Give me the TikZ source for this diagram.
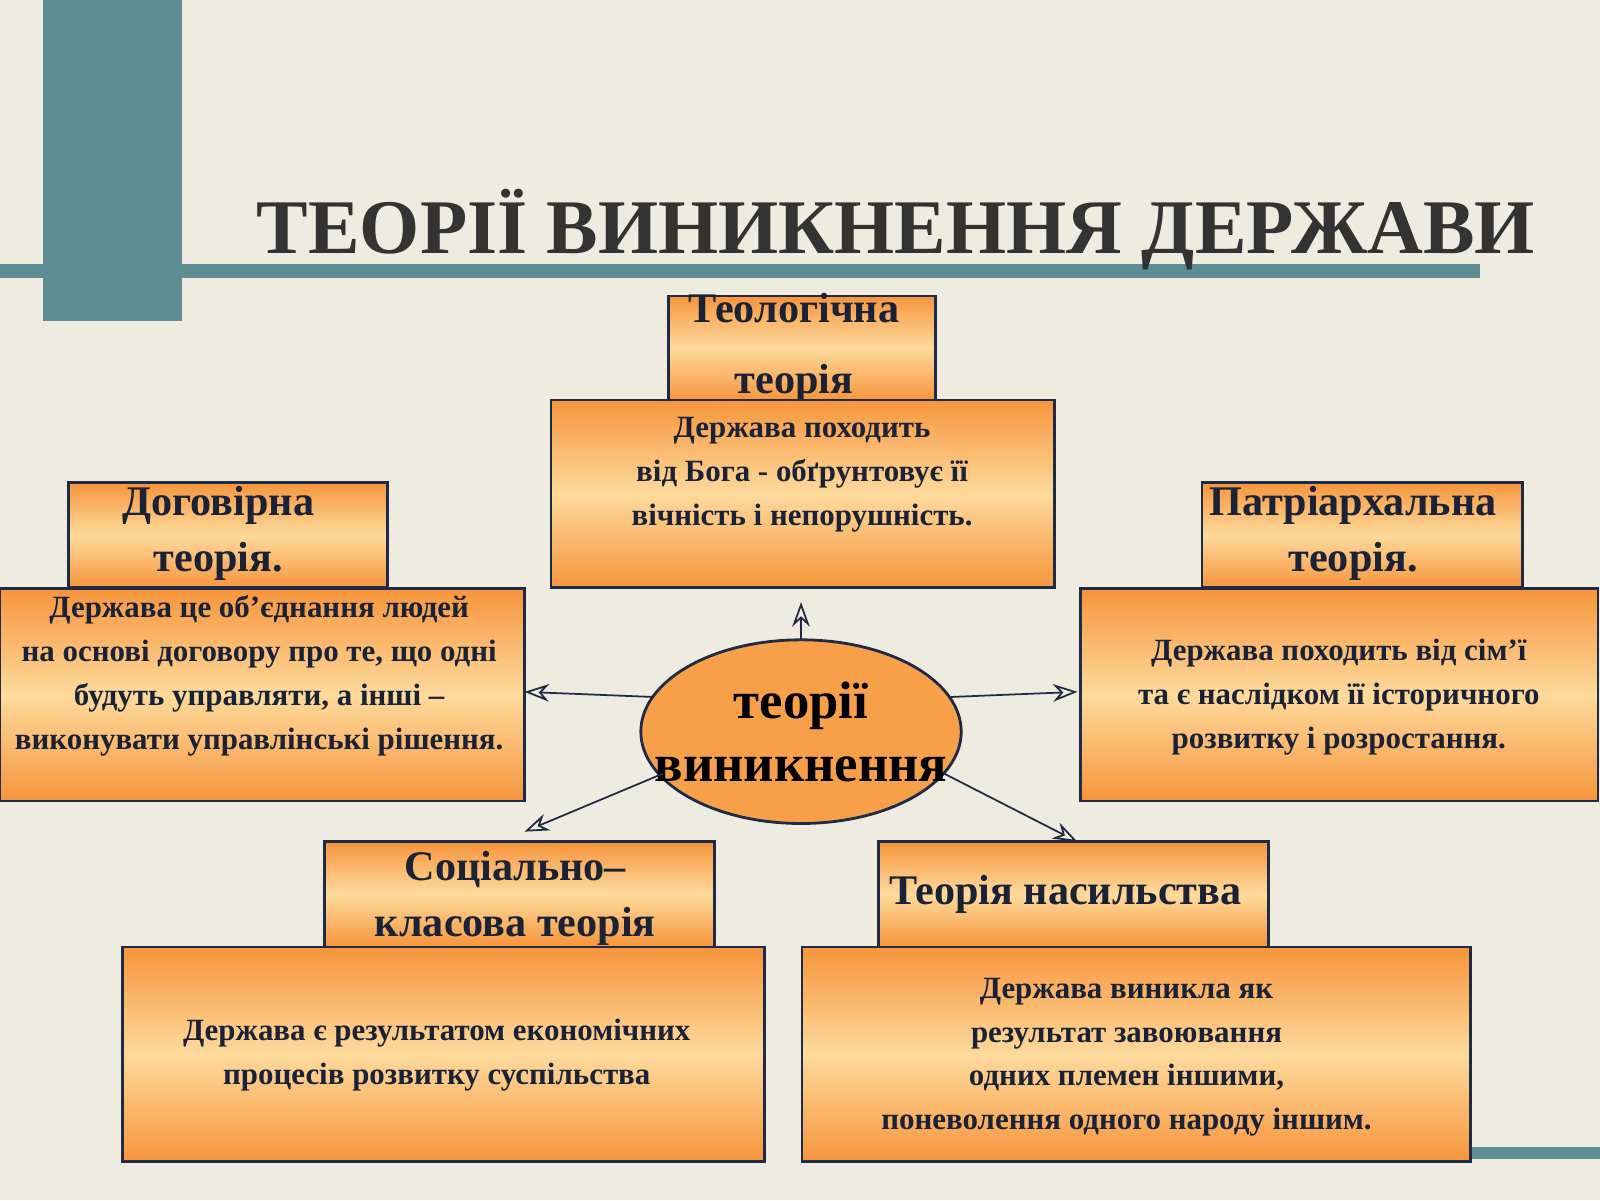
\documentclass[tikz,border=0pt]{standalone}
\usepackage{fontspec}
\setmainfont{Liberation Serif}
\usetikzlibrary{shapes.geometric,arrows.meta}
\definecolor{bgbeige}{HTML}{EEEBE0}
\definecolor{teal}{HTML}{5E8D93}
\definecolor{boxedge}{HTML}{F7953C}
\definecolor{boxmid}{HTML}{FDDA9C}
\definecolor{ink}{HTML}{1F2A44}
\tikzset{
  orangebox/.style={draw=ink, line width=0.8pt, top color=boxedge, bottom color=boxedge, middle color=boxmid, shading=axis},
  headtext/.style={font=\fontsize{12}{16}\selectfont\bfseries, align=center, text=ink!80!black},
  bodytext/.style={font=\fontsize{8.8}{12.5}\selectfont\bfseries, align=center, text=ink!80!black},
  link/.style={draw=ink, line width=0.5pt, -{Stealth[length=7pt,width=5pt,open]}}
}
\begin{document}
\begin{tikzpicture}[x=0.010204cm, y=-0.010204cm]
\fill[bgbeige] (0,0) rectangle (1568,1176);
\useasboundingbox (0,0) rectangle (1568,1176);
% decoration
\fill[teal] (0,259) rectangle (1450,272);
\fill[teal] (42,0) rectangle (178,315);
\fill[teal] (1440,1124) rectangle (1568,1136);
\node[font=\fontsize{22}{26}\selectfont\bfseries, text=black!80] (title) at (878,225) {ТЕОРІЇ ВИНИКНЕННЯ ДЕРЖАВИ};
% boxes
\draw[orangebox] (655,290) rectangle (917,392);
\node[headtext] (teolh) at (778,341) {Теологічна\\[4pt]теорія};
\draw[orangebox] (540,392) rectangle (1033,576);
\node[bodytext] (teolb) at (786,465) {Держава походить\\від Бога - обґрунтовує її\\вічність і непорушність.};
\draw[orangebox] (67,473) rectangle (380,576);
\node[headtext] (dogh) at (214,523) {Договірна\\теорія.};
\draw[orangebox] (0,577) rectangle (514,785);
\node[bodytext] (dogb) at (254,662) {Держава це об'єднання людей\\на основі договору про те, що одні\\будуть управляти, а інші –\\виконувати управлінські рішення.};
\draw[orangebox] (1178,473) rectangle (1492,576);
\node[headtext] (path) at (1326,523) {Патріархальна\\теорія.};
\draw[orangebox] (1059,577) rectangle (1566,785);
\node[bodytext] (patb) at (1312,683) {Держава походить від сім'ї\\та є наслідком її історичного\\розвитку і розростання.};
\draw[orangebox] (318,825) rectangle (700,928);
\node[headtext] (soch) at (505,880) {Соціально–\\класова теорія};
\draw[orangebox] (120,928) rectangle (749,1138);
\node[bodytext] (socb) at (428,1034) {Держава є результатом економічних\\процесів розвитку суспільства};
\draw[orangebox] (861,825) rectangle (1243,928);
\node[headtext] (nash) at (1044,876) {Теорія насильства};
\draw[orangebox] (786,928) rectangle (1441,1138);
\node[bodytext] (nasb) at (1104,1036) {Держава виникла як\\результат завоювання\\одних племен іншими,\\поневолення одного народу іншим.};
% centre
\draw[ink, line width=0.8pt, fill=boxedge!85!boxmid] (785,717) ellipse [x radius=157, y radius=90];
\node[font=\fontsize{15}{18}\selectfont\bfseries, align=center] (core) at (785,717) {теорії\\виникнення};
\coordinate (up) at (785,590);
\coordinate (lt) at (514,678);
\coordinate (rt) at (1056,678);
\coordinate (ll) at (514,815);
\coordinate (lr) at (1056,825);
\coordinate (cn) at (785,627);
\coordinate (cw) at (640,683);
\coordinate (ce) at (932,683);
\coordinate (csw) at (650,758);
\coordinate (cse) at (925,758);
\draw[link] (cn) -- (up);
\draw[link] (cw) -- (lt);
\draw[link] (ce) -- (rt);
\draw[link] (csw) -- (ll);
\draw[link] (cse) -- (lr);
\end{tikzpicture}
\end{document}
